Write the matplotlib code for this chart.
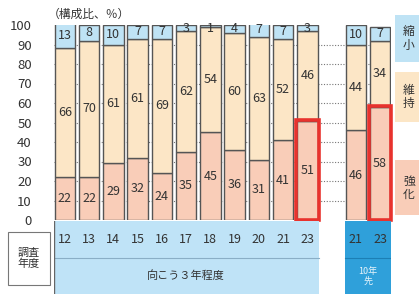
import matplotlib.pyplot as plt
from matplotlib.patches import Rectangle

plt.rcParams['font.family'] = ['Noto Sans CJK JP', 'DejaVu Sans']

# survey year labels and slot positions (slot 11 is the empty gap)
years = ['12', '13', '14', '15', '16', '17', '18', '19', '20', '21', '23', '21', '23']
slots = [0, 1, 2, 3, 4, 5, 6, 7, 8, 9, 10, 12, 13]
# shares (%)
strengthen = [22, 22, 29, 32, 24, 35, 45, 36, 31, 41, 51, 46, 58]   # 強化
maintain = [66, 70, 61, 61, 69, 62, 54, 60, 63, 52, 46, 44, 34]     # 維持
reduce_ = [13, 8, 10, 7, 7, 3, 1, 4, 7, 7, 3, 10, 7]                # 縮小

c_str = '#f9cdb8'
c_mnt = '#fce6c6'
c_red = '#bfe3f5'
c_edge = '#555555'

W, H = 419, 294
fig = plt.figure(figsize=(W / 100, H / 100), dpi=100)

def fx(px):
    return px / W

def fy(py):
    return 1 - py / H

x0, x1 = -0.45, 13.45
ax = fig.add_axes([fx(54), fy(220), fx(391) - fx(54), fy(25) - fy(220)])
ax.set_xlim(x0, x1)
ax.set_ylim(0, 100)
for s in ax.spines.values():
    s.set_visible(False)
ax.set_xticks([])
ax.set_yticks(range(0, 101, 10))
ax.tick_params(axis='y', length=0, pad=16, labelsize=9.5, labelcolor='#333333')

# short grid marks between bars / dotted lines in gap
for v in range(10, 100, 10):
    ax.axhline(v, color='#777777', lw=0.8, ls=(0, (1, 1.5)), zorder=0)

bw = 0.84
ax.bar(slots, strengthen, bw, color=c_str, edgecolor=c_edge, lw=1, zorder=2)
bot2 = [a for a in strengthen]
ax.bar(slots, maintain, bw, bottom=bot2, color=c_mnt, edgecolor=c_edge, lw=1, zorder=2)
bot3 = [a + b for a, b in zip(strengthen, maintain)]
ax.bar(slots, reduce_, bw, bottom=bot3, color=c_red, edgecolor=c_edge, lw=1, zorder=2)

for i, s in enumerate(slots):
    ax.text(s, strengthen[i] / 2, str(strengthen[i]), ha='center', va='center',
            fontsize=9, color='#333333', zorder=4)
    ax.text(s, strengthen[i] + maintain[i] / 2, str(maintain[i]), ha='center', va='center',
            fontsize=9, color='#333333', zorder=4)
    yt = min(bot3[i] + reduce_[i] / 2, 98)
    ax.text(s, yt, str(reduce_[i]), ha='center', va='center',
            fontsize=9, color='#333333', zorder=4)

# red highlight boxes
for i in [10, 12]:
    s, v = slots[i], strengthen[i]
    ax.add_patch(Rectangle((s - 0.47, 0), 0.94, v + 0.5, fill=False,
                           edgecolor='#e8322d', lw=2.6, zorder=5, clip_on=False))

fig.text(fx(48), fy(14), '（構成比、％）', fontsize=8.5, color='#333333', va='center')

# bottom table
tb = fig.add_axes([fx(54), 0, fx(391) - fx(54), fy(221)])
tb.set_xlim(x0, x1)
tb.set_ylim(0, 1)
tb.axis('off')
tb.add_patch(Rectangle((x0, 0), 10.5 - x0, 1, color='#bfe3f7', lw=0))
tb.add_patch(Rectangle((11.55, 0), x1 - 11.55, 1, color='#2fa0da', lw=0))
tb.plot([x0, 10.5], [0.49, 0.49], color='#8aaec6', lw=0.8)
tb.plot([11.55, x1], [0.49, 0.49], color='#1c7fb5', lw=0.8)
tb.plot([x0, x0], [0, 1], color='#666666', lw=1)
for s, y in zip(slots, years):
    tb.text(s, 0.75, y, ha='center', va='center', fontsize=9, color='#333333')
tb.text(5, 0.25, '向こう３年程度', ha='center', va='center', fontsize=8, color='#333333')
tb.text(12.5, 0.24, '10年\n先', ha='center', va='center', fontsize=6.5,
        color='#e8f4fb', linespacing=1.1)

# survey-year label box
fig.patches.append(Rectangle((fx(8), fy(285)), fx(50) - fx(8), fy(232) - fy(285),
                             transform=fig.transFigure, facecolor='white',
                             edgecolor='#777777', lw=0.8))
fig.text(fx(29), fy(258.5), '調査\n年度', ha='center', va='center', fontsize=8,
         color='#333333', linespacing=1.05)

# legend boxes on the right
for (ytop, ybot, col, lab) in [(15, 62, c_red, '縮\n小'), (72, 122, c_mnt, '維\n持'),
                                (160, 215, c_str, '強\n化')]:
    fig.patches.append(Rectangle((fx(395), fy(ybot)), fx(440) - fx(395), fy(ytop) - fy(ybot),
                                 transform=fig.transFigure, facecolor=col, lw=0))
    fig.text(fx(403), fy((ytop + ybot) / 2), lab, va='center', ha='left', fontsize=8.5,
             color='#333333', linespacing=1.0)

fig.savefig('out.png', dpi=100)
